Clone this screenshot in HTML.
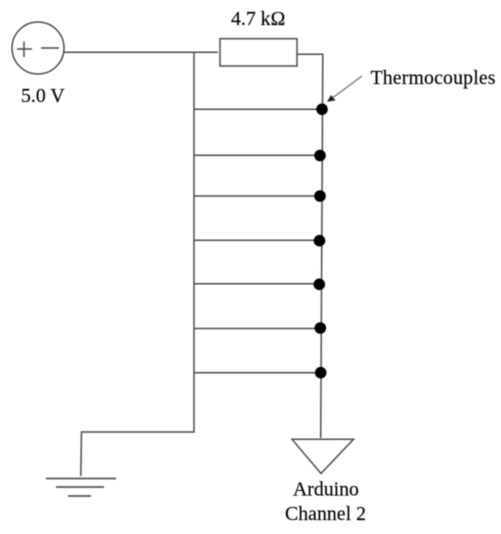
<!DOCTYPE html>
<html lang="en">
<head>
<meta charset="utf-8">
<title>Thermocouple circuit diagram</title>
<style>
html,body{margin:0;padding:0;background:#fff;width:501px;height:534px;overflow:hidden}
svg{display:block;filter:blur(.4px)}
text{font-family:"Liberation Serif",serif;font-size:19.8px;fill:#000;stroke:#000;stroke-width:.15}
.w{stroke:#4c4c4c;stroke-width:1.5;fill:none}
.g{stroke:#555;stroke-width:1.8;fill:none}
.d{fill:#000}
</style>
</head>
<body>
<svg width="501" height="534" viewBox="0 0 501 534">
<g>
<circle cx="38" cy="48" r="26" class="w"/>
<path d="M17 49H32M24 41.500V57" class="w"/>
<path d="M41 48H59" class="w"/>
</g>
<text x="21" y="102">5.0 V</text>
<text x="231" y="25">4.7 kΩ</text>
<text x="370.500" y="84" textLength="125">Thermocouples</text>
<path d="M64 52.300H218" class="w"/>
<rect x="220" y="38.700" width="77" height="27.300" class="w"/>
<path d="M297 54.300H322.800L320.700 438" class="w"/>
<path d="M194 52V432H81.500L80.800 476" class="w"/>
<g>
<path d="M194 109.300H321" class="w"/>
<path d="M194 155.300H320" class="w"/>
<path d="M194 196H320" class="w"/>
<path d="M194 240.300H320" class="w"/>
<path d="M194 283.700H320" class="w"/>
<path d="M194 328.500H320" class="w"/>
<path d="M194 372.700H320" class="w"/>
</g>
<g>
<circle cx="322" cy="109.300" r="5.800" class="d"/>
<circle cx="320" cy="155.500" r="5.800" class="d"/>
<circle cx="320" cy="196" r="5.800" class="d"/>
<circle cx="319.500" cy="240.700" r="5.800" class="d"/>
<circle cx="319.300" cy="284.300" r="5.800" class="d"/>
<circle cx="320.300" cy="328" r="5.800" class="d"/>
<circle cx="320.700" cy="372.700" r="5.800" class="d"/>
</g>
<g>
<path d="M362 76L331 99" stroke="#777" stroke-width="1.400" fill="none"/>
<path d="M327 101.700L331 95L335.500 100.500Z" fill="#222"/>
</g>
<g>
<path d="M46 478.500H116" class="g"/>
<path d="M56 487H104" class="g"/>
<path d="M68 496H91" class="g"/>
</g>
<path d="M292 439.300H353.500L321 473.500Z" class="w"/>
<text x="293" y="495.500">Arduino</text>
<text x="285" y="520" textLength="81">Channel 2</text>
</svg>
</body>
</html>
